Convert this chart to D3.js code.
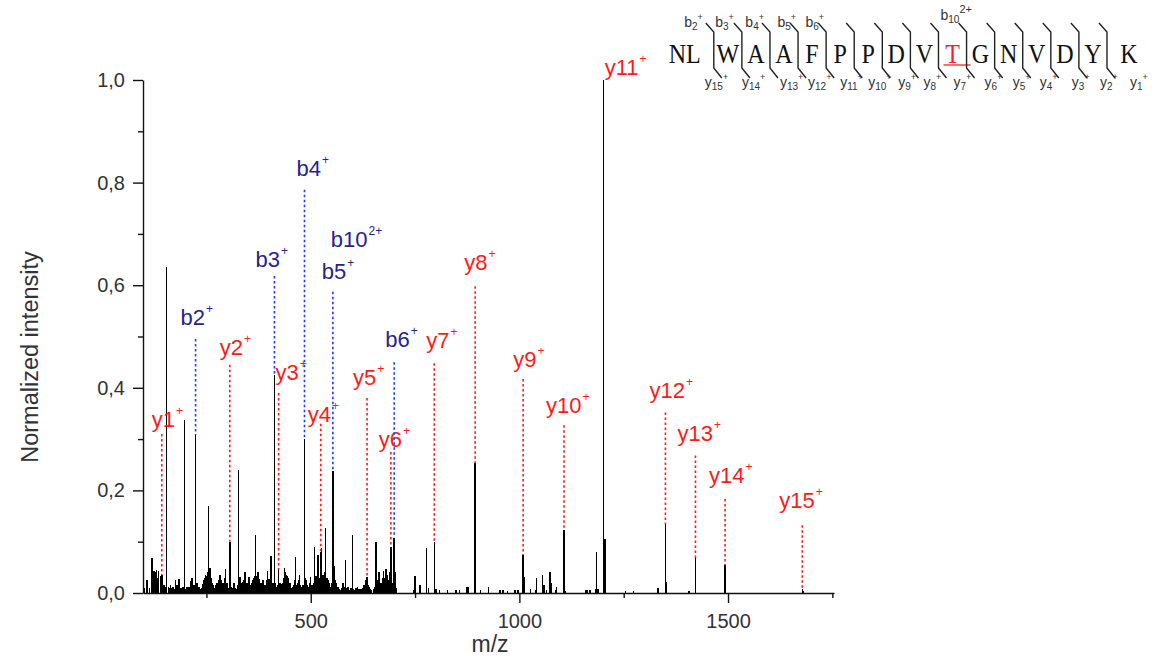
<!DOCTYPE html>
<html><head><meta charset="utf-8">
<script src="https://cdn.jsdelivr.net/npm/d3@7"></script>
<style>body{margin:0;background:#fff}svg{display:block}</style>
</head><body>
<svg id="c" width="1165" height="656"></svg>
<script>
// ---------------- DATA ----------------
const peakMz = [102,108,113,119,122,124,126,128,130,132,135,140,143,148,151,154,159,162,164,167,170,173,176,180,184,187,190,194,198,201,204,208,212,216,220,224,228,232,235,238,241,243,246,248,251,253,255,258,261,264,266,270,273,275,279,282,286,290,293,296,299,301,303,306,310,313,316,319,322,324,327,331,334,336,339,342,345,347,350,352,355,357,359,361,363,365,368,371,374,376,379,381,384,387,390,392,394,396,398,400,402,405,408,410,413,416,418,420,423,426,428,431,433,435,437,439,441,443,445,447,449,451,454,456,459,461,463,466,469,471,473,476,479,482,485,488,490,492,494,497,499,502,504,507,509,511,513,515,517,520,522,524,526,529,531,533,535,537,539,541,544,546,549,551,553,555,557,559,561,564,566,569,571,574,577,580,583,586,589,593,597,600,603,606,609,612,616,620,624,628,631,633,635,638,640,643,646,650,653,656,658,660,662,664,667,670,672,674,677,680,683,686,689,692,694,696,698,700,703,706,746,750,762,778,782,796,800,809,828,848,857,875,878,894,907,926,953,961,971,989,995,997,1009,1011,1027,1039,1041,1056,1059,1065,1073,1076,1087,1089,1107,1111,1159,1162,1169,1182,1185,1188,1202,1205,1254,1274,1332,1350,1352,1406,1422,1493,1678,1681];
const peakInt = [0.01,0.026,0.01,0.068,0.042,0.035,0.043,0.04,0.044,0.03,0.042,0.033,0.035,0.015,0.012,0.635,0.012,0.01,0.015,0.01,0.012,0.008,0.026,0.015,0.028,0.01,0.01,0.012,0.338,0.008,0.012,0.012,0.024,0.03,0.015,0.308,0.02,0.012,0.008,0.01,0.018,0.025,0.03,0.036,0.033,0.04,0.17,0.048,0.03,0.02,0.015,0.01,0.015,0.02,0.025,0.036,0.026,0.02,0.03,0.046,0.02,0.015,0.01,0.1,0.012,0.01,0.02,0.01,0.008,0.015,0.24,0.032,0.02,0.022,0.025,0.04,0.02,0.02,0.02,0.032,0.015,0.012,0.02,0.026,0.03,0.033,0.113,0.033,0.04,0.028,0.02,0.02,0.025,0.026,0.015,0.015,0.025,0.043,0.02,0.028,0.015,0.073,0.012,0.02,0.425,0.02,0.012,0.015,0.046,0.02,0.012,0.018,0.02,0.03,0.048,0.04,0.035,0.033,0.025,0.029,0.02,0.02,0.01,0.012,0.015,0.025,0.07,0.015,0.02,0.025,0.036,0.015,0.012,0.015,0.30,0.03,0.026,0.015,0.012,0.02,0.032,0.015,0.015,0.02,0.09,0.02,0.033,0.025,0.075,0.03,0.03,0.08,0.087,0.035,0.033,0.04,0.126,0.03,0.029,0.025,0.02,0.012,0.012,0.02,0.238,0.035,0.053,0.025,0.02,0.012,0.012,0.008,0.006,0.01,0.02,0.012,0.064,0.01,0.012,0.006,0.01,0.113,0.008,0.006,0.01,0.012,0.008,0.008,0.01,0.015,0.018,0.025,0.032,0.015,0.012,0.008,0.006,0.008,0.012,0.1,0.015,0.026,0.025,0.04,0.02,0.02,0.03,0.043,0.03,0.047,0.035,0.025,0.04,0.09,0.03,0.02,0.04,0.108,0.04,0.01,0.005,0.034,0.016,0.087,0.01,0.1,0.008,0.005,0.006,0.005,0.005,0.012,0.012,0.253,0.005,0.012,0.006,0.006,0.004,0.006,0.006,0.006,0.074,0.032,0.008,0.005,0.03,0.035,0.015,0.005,0.04,0.02,0.005,0.012,0.122,0.004,0.006,0.006,0.005,0.008,0.079,0.008,1.0,0.106,0.004,0.004,0.01,0.134,0.022,0.003,0.068,0.054,0.008,0.003];

// fragment-ion annotations
const ionType   = ["y","b","y","b","y","b","b","b","y","y","y","b","y","y","y","y","y","y","y","y","y"];
const ionNum    = ["1","2","2","3","3","4","10","5","4","5","6","6","7","8","9","10","11","12","13","14","15"];
const ionCharge = ["+","+","+","+","+","+","2+","+","+","+","+","+","+","+","+","+","+","+","+","+","+"];
const ionMz     = [143,224,306,413,423,485,553,553,524,635,692,700,796,894,1009,1107,1202,1350,1422,1493,1678];
const ionPeak   = [0.035,0.308,0.1,0.425,0.046,0.30,0.587,0.238,0.08,0.032,0.09,0.108,0.1,0.253,0.074,0.122,1.0,0.134,0.068,0.054,0.008];
const ionTop    = [0.31,0.495,0.445,0.618,0.39,0.786,0.587,0.587,0.33,0.38,0.275,0.45,0.448,0.598,0.417,0.327,1.0,0.352,0.268,0.183,0.132];

// axes
const yMajorTicks = [0,0.2,0.4,0.6,0.8,1.0];
const yTickLabels = ["0,0","0,2","0,4","0,6","0,8","1,0"];
const yMinorTicks = [0.1,0.3,0.5,0.7,0.9];
const xMajorTicks = [500,1000,1500];
const xTickLabels = ["500","1000","1500"];
const xMinorTicks = [250,750,1250,1750];

// peptide sequence
const residues = ["NL","W","A","A","F","P","P","D","V","T","G","N","V","D","Y","K"];
const modifiedSite = 9;
const bSeqNum = ["2","3","4","5","6","10"];
const bSeqCharge = ["+","+","+","+","+","2+"];
const bSeqSite = [1,2,3,4,5,9];
const ySeqNum = ["15","14","13","12","11","10","9","8","7","6","5","4","3","2","1"];
const ySeqSite = [1,2,3,4,5,6,7,8,9,10,11,12,13,14,15];

// ---------------- LAYOUT ----------------
const ionLabelDx = [-10,-15,-10,-19,-3,-8,-2,-11,-13,-14,-12,-9,-8,-11,-10,-18,1,-16,-18,-16,-23];
const ionLabelDy = [-7,-14,-10,-9,-13,-14,-45,-13,-2,-13,-5,-15,-15,-16,-12,-12,-5,-14,-15,-16,-17];
const bSeqDx = [-11,-8,-6,-2,-2,2];
const ySeqDx = [-9,0,10,10,14,14,16,13,15,18,18,17,21,21,23];

const FONT = "'Liberation Sans', Arial, sans-serif";
const RED = "#ff1a1a", BLUE = "#1f3cff", NAVY = "#24248c";

const svg = d3.select("#c");
const x = d3.scaleLinear().domain([98, 1754]).range([143, 834]);
const y = d3.scaleLinear().domain([0, 1]).range([593, 80]);

// peaks
svg.append("g").selectAll("line").data(peakMz).join("line")
  .attr("x1", d => x(d)).attr("x2", d => x(d))
  .attr("y1", y(0)).attr("y2", (d, i) => y(peakInt[i]))
  .attr("stroke", "#000").attr("stroke-width", 1.5)
  .attr("shape-rendering", "crispEdges");

// dotted annotation lines
const ann = svg.append("g");
ionMz.forEach((m, i) => {
  if (ionTop[i] > ionPeak[i]) {
    ann.append("line")
      .attr("x1", x(m)).attr("x2", x(m))
      .attr("y1", y(ionTop[i])).attr("y2", y(ionPeak[i]))
      .attr("stroke", ionType[i] === "y" ? RED : BLUE)
      .attr("stroke-width", 1.6).attr("stroke-dasharray", "2.5,2.5");
  }
  const t = ann.append("text")
    .attr("x", x(m) + ionLabelDx[i]).attr("y", y(ionTop[i]) + ionLabelDy[i])
    .attr("font-family", FONT).attr("font-size", 22)
    .attr("fill", ionType[i] === "y" ? RED : NAVY);
  t.append("tspan").text(ionType[i] + ionNum[i]);
  t.append("tspan").attr("font-size", 12).attr("dx", 1).attr("dy", -12).text(ionCharge[i]);
});

// y axis
const gy = svg.append("g").attr("transform", "translate(143,0)");
gy.call(d3.axisLeft(y).tickValues(yMajorTicks).tickSize(10).tickSizeOuter(0).tickPadding(8)
  .tickFormat((d, i) => yTickLabels[i]));
gy.append("g").call(d3.axisLeft(y).tickValues(yMinorTicks).tickSize(5).tickFormat(""))
  .select(".domain").remove();
// x axis
const gx = svg.append("g").attr("transform", "translate(0,593)");
gx.call(d3.axisBottom(x).tickValues(xMajorTicks).tickSize(10).tickSizeOuter(0).tickPadding(11)
  .tickFormat((d, i) => xTickLabels[i]));
gx.append("g").call(d3.axisBottom(x).tickValues(xMinorTicks).tickSize(5).tickFormat(""))
  .select(".domain").remove();
svg.selectAll(".domain, .tick line").attr("stroke", "#111").attr("stroke-width", 1.4);
svg.selectAll(".tick text").attr("font-family", FONT).attr("font-size", 20).attr("fill", "#333");

// axis titles
svg.append("text").attr("x", 490).attr("y", 652).attr("text-anchor", "middle")
  .attr("font-family", FONT).attr("font-size", 23).attr("fill", "#333").text("m/z");
svg.append("text").attr("transform", "translate(38,357) rotate(-90)").attr("text-anchor", "middle")
  .attr("font-family", FONT).attr("font-size", 23.5).attr("fill", "#333").text("Normalized intensity");

// ---------------- PEPTIDE SEQUENCE ----------------
const seqX = d3.scaleLinear().domain([1, 14]).range([727.8, 1092.9]);
const last = residues.length - 1;
const resX = i => seqX(i) + (i === 0 ? -15 : i === last ? 8 : 0);
const brX = i => seqX(i) - 14;
const seq = svg.append("g");
residues.forEach((r, i) => {
  seq.append("text").attr("transform", `translate(${resX(i)},63) scale(0.86,1)`)
    .attr("text-anchor", "middle").attr("font-family", "'Liberation Serif', 'Times New Roman', serif")
    .attr("font-size", 28).attr("fill", i === modifiedSite ? "#e8262a" : "#111").text(r);
});
seq.append("line").attr("x1", resX(modifiedSite) - 9).attr("x2", brX(modifiedSite + 1) + 4)
  .attr("y1", 65).attr("y2", 65).attr("stroke", "#e8262a").attr("stroke-width", 1.3);
for (let i = 1; i <= last; i++) {
  const bx = brX(i);
  seq.append("path").attr("d", `M${bx - 8},23 L${bx},32 L${bx},68 L${bx + 8},78`)
    .attr("fill", "none").attr("stroke", "#222").attr("stroke-width", 1.4);
}
bSeqSite.forEach((s, i) => {
  const isB10 = bSeqCharge[i] === "2+";
  const t = seq.append("text")
    .attr("x", brX(s) + bSeqDx[i]).attr("y", isB10 ? 20 : 27)
    .attr("text-anchor", isB10 ? "start" : "end")
    .attr("font-family", FONT).attr("font-size", 14).attr("fill", "#333");
  t.append("tspan").text("b");
  t.append("tspan").attr("font-size", 10).attr("dy", 3).text(bSeqNum[i]);
  t.append("tspan").attr("font-size", isB10 ? 11 : 9).attr("dy", -10).text(bSeqCharge[i]);
});
ySeqSite.forEach((s, i) => {
  const t = seq.append("text")
    .attr("x", brX(s) + ySeqDx[i]).attr("y", 87)
    .attr("font-family", FONT).attr("font-size", 14).attr("fill", "#333");
  t.append("tspan").text("y");
  t.append("tspan").attr("font-size", 10).attr("dy", 3).text(ySeqNum[i]);
  t.append("tspan").attr("font-size", 9).attr("dy", -10).text("+");
});
</script>
</body></html>
